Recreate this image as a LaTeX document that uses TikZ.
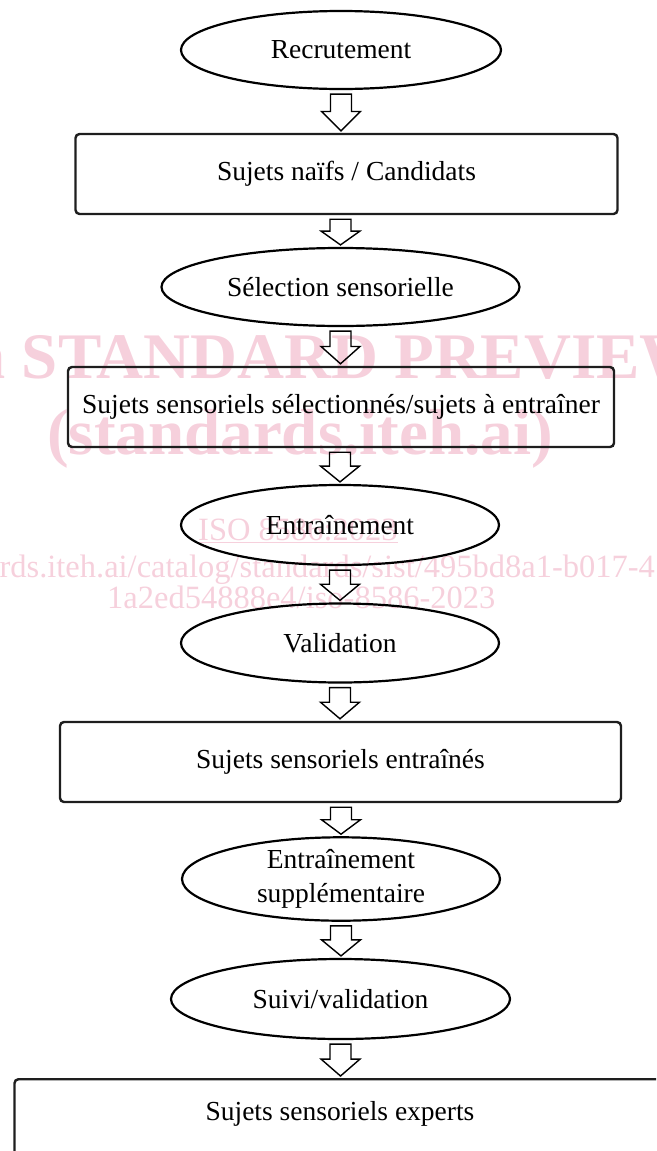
\documentclass[tikz,border=0pt]{standalone}
\usepackage{fontspec}
\newfontfamily\wmfont{Liberation Serif}
\newfontfamily\dgfont{Liberation Serif}
\usetikzlibrary{calc,shapes.geometric}
\definecolor{wmpink}{RGB}{246,208,220}
\definecolor{boxline}{RGB}{30,30,30}
\newcommand{\diagfont}{\dgfont\fontsize{27.5}{34}\selectfont}
\tikzset{
  ell/.style={ellipse, draw=black, line width=2.2pt, inner sep=0pt, align=center, font=\diagfont},
  stepbox/.style={rectangle, rounded corners=4pt, draw=boxline, line width=2.4pt, inner sep=0pt, align=center, font=\diagfont},
  blockarr/.style={draw=black, line width=1.4pt, line join=miter},
  wmbig/.style={text=wmpink, inner sep=0pt, anchor=base west, font=\wmfont\bfseries\fontsize{65}{65}\selectfont},
  wmsmall/.style={text=wmpink, inner sep=0pt, anchor=base west, font=\wmfont\fontsize{32.5}{32.5}\selectfont},
}
\newcommand{\flowarrow}[3]{%
  \draw[blockarr] let \p1=(#1.south), \p2=(#2.north), \p3=(#3.center), \n1={0.5*\y1+0.5*\y2} in
    (\x3-10.5pt,\y1-4pt) -- (\x3+10.5pt,\y1-4pt) -- (\x3+10.5pt,\n1) -- (\x3+19.5pt,\n1)
    -- (\x3,\y2+2pt) -- (\x3-19.5pt,\n1) -- (\x3-10.5pt,\n1) -- cycle;}
\begin{document}
\begin{tikzpicture}[x=1pt,y=-1pt]
\useasboundingbox (0,0) rectangle (656,1151);
\clip (0,0) rectangle (656,1151);
% watermark
\node[wmbig] (wm1) at (-115,378) {iTeh STANDARD PREVIEW};
\node[wmbig] (wm2) at (47,454) {(standards.iteh.ai)};
\node[wmsmall] (wm3) at (198,540) {\underline{ISO 8586:2023}};
\node[wmsmall] (wm4) at (-174,577) {https://standards.iteh.ai/catalog/standards/sist/495bd8a1-b017-41};
\node[wmsmall] (wm5) at (107,608) {1a2ed54888e4/iso-8586-2023};
% diagram
\node[ell, minimum width=320pt, minimum height=78pt] (e1) at (341,50) {Recrutement};
\node[stepbox, minimum width=542pt, minimum height=80pt] (b1) at (346.5,174) {Sujets naïfs / Candidats};
\node[ell, minimum width=358pt, minimum height=78pt] (e2) at (340.5,287) {Sélection sensorielle};
\node[stepbox, minimum width=546pt, minimum height=80pt] (b2) at (341,407) {Sujets sensoriels sélectionnés/sujets à entraîner};
\node[ell, minimum width=318pt, minimum height=80pt] (e3) at (340,525) {Entraînement};
\node[ell, minimum width=318pt, minimum height=79pt] (e4) at (340,643) {Validation};
\node[stepbox, minimum width=561pt, minimum height=80pt] (b3) at (340.5,762) {Sujets sensoriels entraînés};
\node[ell, minimum width=318pt, minimum height=79pt] (e5) at (341,879) {Entraînement\\supplémentaire};
\node[ell, minimum width=339pt, minimum height=80pt] (e6) at (340.5,999) {Suivi/validation};
\node[stepbox, anchor=north, minimum width=651pt, text height=18pt, text depth=50pt, inner ysep=23pt] (b4) at (340,1078) {Sujets sensoriels experts};
% arrows
\flowarrow{e1}{b1}{e1}
\flowarrow{b1}{e2}{e2}
\flowarrow{e2}{b2}{e2}
\flowarrow{b2}{e3}{e3}
\flowarrow{e3}{e4}{e3}
\flowarrow{e4}{b3}{e4}
\flowarrow{b3}{e5}{e5}
\flowarrow{e5}{e6}{e5}
\flowarrow{e6}{b4}{e6}
\end{tikzpicture}
\end{document}
